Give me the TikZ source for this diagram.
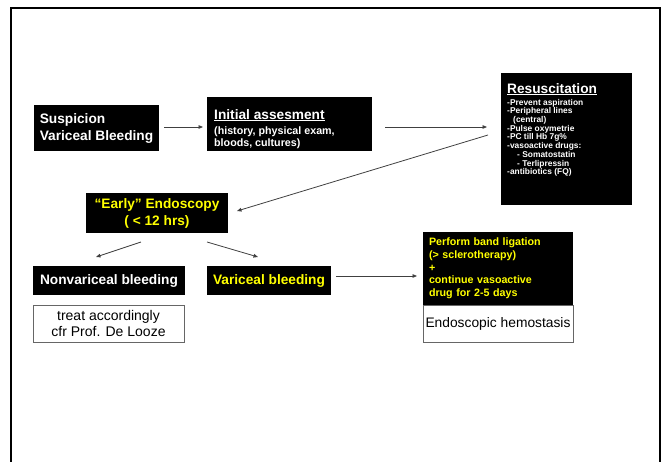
\documentclass[tikz,border=0pt]{standalone}
\usepackage{fontspec}
\setmainfont{Liberation Sans}
\usetikzlibrary{arrows.meta,calc}
\newsavebox\ulbox
\newcommand\myul[1]{\leavevmode\sbox\ulbox{#1}\rlap{\rule[-2.3pt]{\wd\ulbox}{1.3pt}}\usebox\ulbox}
\definecolor{hiyellow}{RGB}{255,255,0}
\begin{document}
\begin{tikzpicture}[x=1pt,y=-1pt,
  blk/.style={fill=black, inner sep=0pt, outer sep=0pt, text=white},
  big/.style={font=\fontsize{13.7pt}{17pt}\selectfont\bfseries},
  listtext/.style={text=white, inner sep=0pt, anchor=north west, align=left},
  wbox/.style={fill=white, draw=black!60, line width=0.8pt, inner sep=0pt},
  conn/.style={draw=black!75, line width=0.8pt, -{Triangle[length=4.5pt,width=3.6pt]}},
  frameline/.style={line width=2.4pt, draw=black}]
\path[use as bounding box] (0,0) rectangle (667,461);

% slide frame, open at the bottom
\draw[frameline] (11,463) -- (11,8) -- (660,8) -- (660,463);

% first row
\node[blk, big, minimum width=125pt, minimum height=46pt, align=left]
  (susp) at (96.5,128) {Suspicion\\Variceal Bleeding};

\node[blk, anchor=north west, minimum width=165pt, minimum height=54pt] (init) at (207,97) {};
\node[listtext, font=\fontsize{10.7pt}{12.4pt}\selectfont\bfseries]
  (initT) at (214,109) {{\fontsize{13.7pt}{15pt}\selectfont\myul{Initial assesment}}\\[2.6pt]
    (history, physical exam,\\bloods, cultures)};

% resuscitation: underlined title over a list in small type
\node[blk, anchor=north west, minimum width=131pt, minimum height=132pt] (res) at (501,73) {};
\node[listtext, font=\fontsize{8.4pt}{8.7pt}\selectfont\bfseries]
  (resT) at (507,83) {{\fontsize{13.7pt}{15pt}\selectfont\myul{Resuscitation}}\\[3.3pt]
     -Prevent aspiration\\
     -Peripheral lines\\
     \hspace*{6pt}(central)\\
     -Pulse oxymetrie\\
     -PC till Hb 7g\%\\
     -vasoactive drugs:\\
     \hspace*{10pt}- Somatostatin\\
     \hspace*{10pt}- Terlipressin\\
     -antibiotics (FQ)};

% endoscopy
\node[blk, big, text=hiyellow, minimum width=142pt, minimum height=40pt, align=center]
  (early) at (157,213) {“Early” Endoscopy\\( < 12 hrs)};

% outcomes
\node[blk, big, minimum width=152pt, minimum height=29pt]
  (nonvar) at (109,280.5) {Nonvariceal bleeding};
\node[wbox, minimum width=151pt, minimum height=37pt, align=center,
  font=\fontsize{14pt}{15.5pt}\selectfont]
  (treat) at (108.5,323.5) {treat accordingly\\cfr Prof. De Looze};

\node[blk, big, text=hiyellow, minimum width=124pt, minimum height=29pt]
  (var) at (269,280.5) {Variceal bleeding};

\node[blk, text=hiyellow, minimum width=150pt, minimum height=73pt, text width=138pt,
  align=left, font=\fontsize{10.7pt}{12.7pt}\selectfont\bfseries]
  (band) at (498,268.5) {Perform band ligation\\(> sclerotherapy)\\+\\continue vasoactive\\drug for 2-5 days};
\node[wbox, minimum width=150pt, minimum height=37pt, font=\fontsize{13.8pt}{15pt}\selectfont]
  (hemo) at (498,323.5) {Endoscopic hemostasis};

% connectors
\draw[conn] ($(susp.east)+(5,-1)$) -- ($(init.west |- susp.east)+(-4,-1)$);
\draw[conn] ($(init.east)+(13,3)$) -- ($(res.west |- init.east)+(-14,3)$);
\draw[conn] ($(res.west)+(-13,-4)$) -- ($(early.east)+(9,-2)$);
\draw[conn] ($(early.south)+(-16,9)$) -- ($(nonvar.north)+(-13,-9)$);
\draw[conn] ($(early.south)+(50,9)$) -- ($(var.north)+(-11,-9)$);
\draw[conn] ($(var.east)+(5,-4.5)$) -- ($(band.west)+(-6,7.5)$);
\end{tikzpicture}
\end{document}
